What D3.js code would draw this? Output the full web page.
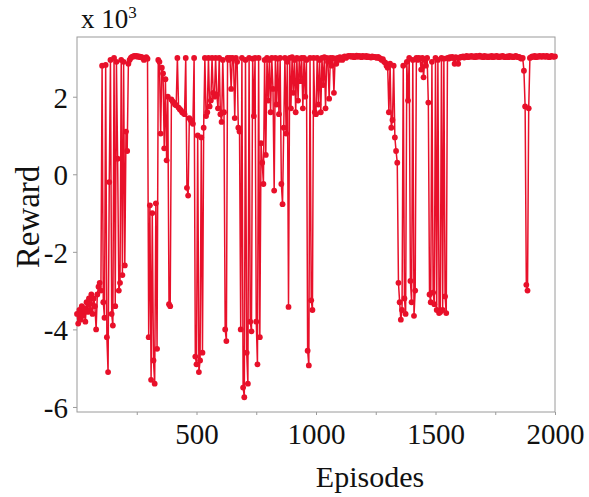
<!DOCTYPE html>
<html>
    <head>
        <meta charset="utf-8">
        <script src="https://d3js.org/d3.v7.min.js"></script>
        <style>
            body { margin: 0; background: #fff; }
            text { font-family: "Liberation Serif", "Times New Roman", serif; fill: #111; }
        </style>
    </head>
    <body>
        <script>
            // reward (x 10^3), one value every 5 episodes
            var epStep = 5;
            var rewardA = [ // episodes 0 - 495
                -3.6, -3.85, -3.5, -3.75, -3.4, -3.65, -3.45, -3.8, -3.3, -3.55,
                -3.2, -3.5, -3.1, -3.6, -3.2, -3.4, -4.0, -3.1, -2.9, -2.8,
                -3.0, 2.8, -3.3, -3.7, 2.82, -4.2, -5.1, -0.2, 2.95, -3.6,
                -3.9, 3.0, -3.4, 2.9, 0.4, -3.0, -2.8, 2.95, -2.6, 2.9,
                -2.35, 1.1, 0.6, 2.85, 2.95, 3.0, 3.03, 3.04, 3.05, 3.04,
                3.05, 3.03, 3.04, 3.02, 3.03, 3.0, 2.95, 3.0, 3.02, 2.98,
                -4.2, -0.8, -5.3, -1.0, -4.8, -5.4, -0.75, -4.5, 2.95, 2.9,
                1.05, 2.75, 2.6, 0.67, 2.45, 0.36, 2.0, -3.35, -3.4, 1.93,
                1.88, 1.85, 1.8, 1.78, 3.0, 1.72, 1.68, 1.65, 1.6, 1.58,
                1.55, 3.0, -0.35, -0.55, 1.45, 1.4, 1.35, 1.3, 3.0, -4.7
            ];
            var rewardB = [ // episodes 500 - 995
                -4.9, 1.0, -5.1, -4.8, 0.95, -4.6, 1.2, 3.0, 1.5, 1.6,
                3.0, 1.75, 1.9, 3.0, 2.1, 2.0, 3.0, 2.05, 1.7, 3.0,
                1.55, 1.35, 2.95, 1.6, -4.0, -4.3, 3.0, 2.95, 3.0, 2.2,
                3.0, 2.98, 1.45, 3.0, 2.9, 1.2, 1.1, -4.0, 3.0, -5.5,
                -5.75, 2.95, -4.6, -5.4, 3.0, -3.8, -4.05, 2.98, 1.5, 3.0,
                -3.8, -4.9, 3.0, -4.2, 0.8, 0.3, -0.25, 2.95, 0.5, 3.0,
                1.9, 2.95, 1.6, 3.0, 2.2, -0.42, 3.0, 1.8, 2.98, 1.55,
                3.0, -0.25, -0.77, 1.2, 3.0, 1.05, 2.9, -3.42, 3.0, 1.7,
                3.02, 2.1, 2.95, 1.6, 3.0, 1.9, 2.98, 2.4, 3.0, 1.7,
                3.0, 2.0, 2.95, -4.55, -4.93, 3.0, -3.25, -3.5, 3.0, 1.6
            ];
            var rewardC = [ // episodes 1000 - 1495
                1.55, 3.0, 1.8, 2.95, 1.6, 3.0, 2.3, 3.02, 1.7, 3.0,
                2.9, 1.95, 3.0, 2.8, 3.0, 2.1, 2.98, 2.85, 3.0, 2.95,
                3.02, 3.0, 2.95, 3.02, 3.04, 3.0, 3.03, 3.05, 3.04, 3.05,
                3.03, 3.05, 3.02, 3.04, 3.06, 3.03, 3.05, 3.04, 3.02, 3.05,
                3.04, 3.03, 3.05, 3.02, 3.04, 3.03, 3.01, 3.04, 3.02, 3.03,
                3.02, 3.0, 3.03, 3.0, 2.98, 2.95, 2.97, 2.9, 2.88, 2.8,
                2.75, 1.6, 2.85, 1.2, 1.4, 2.8, 0.95, 0.6, 0.3, -2.8,
                -3.3, -3.75, -3.5, 2.8, -3.2, -3.6, 2.9, 1.9, 3.0, -2.75,
                -3.3, 2.95, -3.65, -3.0, 3.0, 2.95, 3.0, 2.98, 2.7, 3.0,
                2.5, 2.95, 2.8, 3.0, 1.85, -3.1, -3.3, 2.9, -3.05, -3.35
            ];
            var rewardD = [ // episodes 1500 - 2000
                3.0, -3.5, 2.95, -3.58, -3.55, 3.0, -3.5, 2.98, -3.15, -3.58,
                3.0, 2.98, 3.02, 3.0, 3.03, 3.0, 2.85, 3.02, 3.0, 2.85,
                3.0, 3.03, 3.02, 3.04, 3.01, 3.03, 3.05, 3.02, 3.04, 3.03,
                3.05, 3.03, 3.04, 3.02, 3.05, 3.03, 3.04, 3.06, 3.03, 3.04,
                3.02, 3.05, 3.03, 3.04, 3.02, 3.04, 3.03, 3.05, 3.02, 3.04,
                3.03, 3.05, 3.04, 3.02, 3.04, 3.03, 3.05, 3.04, 3.02, 3.03,
                3.04, 3.02, 3.05, 3.03, 3.04, 3.02, 3.03, 3.05, 3.04, 3.02,
                3.03, 3.0, 2.98, 3.0, 2.67, 1.75, -2.85, -3.0, 1.7, 3.0,
                3.02, 3.04, 3.03, 3.05, 3.02, 3.04, 3.03, 3.05, 3.04, 3.03,
                3.05, 3.04, 3.03, 3.05, 3.04, 3.02, 3.03, 3.05, 3.04, 3.03,
                3.04
            ];
            var xTicks = [250, 500, 750, 1000, 1250, 1500, 1750, 2000];
            var xLabelEvery = 500;
            var yTicks = [-6, -4, -2, 0, 2];

            var width = 589, height = 497;
            var plotLeft = 77, plotRight = 555, plotTop = 37, plotBottom = 412;
            var red = "#e8102a";

            var reward = rewardA.concat(rewardB, rewardC, rewardD);
            var data = reward.map(function (v, i) { return {ep: i * epStep, v: v}; });

            var svg = d3.select('body').append('svg')
                .attr('width', width)
                .attr('height', height);

            var x = d3.scaleLinear().domain([0, 2000]).range([plotLeft, plotRight]);
            var y = d3.scaleLinear().domain([-6.13, 3.54]).range([plotBottom, plotTop]);

            // frame
            svg.append('rect')
                .attr('x', plotLeft).attr('y', plotTop)
                .attr('width', plotRight - plotLeft).attr('height', plotBottom - plotTop)
                .attr('fill', 'none').attr('stroke', '#9a9a9a').attr('stroke-width', 1);

            // data
            var line = d3.line()
                .x(function (d) { return x(d.ep); })
                .y(function (d) { return y(d.v); });

            svg.append('path')
                .datum(data)
                .attr('d', line)
                .attr('fill', 'none')
                .attr('stroke', red)
                .attr('stroke-width', 1.5);

            svg.append('g').selectAll('circle')
                .data(data)
                .enter()
                .append('circle')
                .attr('cx', function (d) { return x(d.ep); })
                .attr('cy', function (d) { return y(d.v); })
                .attr('r', 2.9)
                .attr('fill', red);

            // axes
            var yAxis = d3.axisLeft(y)
                .tickValues(yTicks)
                .tickSize(4)
                .tickPadding(5)
                .tickFormat(function (d) { return String(d); });
            var gy = svg.append('g')
                .attr('transform', 'translate(' + plotLeft + ',0)')
                .call(yAxis);
            gy.select('.domain').remove();
            gy.selectAll('.tick line').attr('stroke', '#9a9a9a');
            gy.selectAll('.tick text')
                .style('font-size', '29px')
                .attr('dy', '0.36em');

            var xAxis = d3.axisBottom(x)
                .tickValues(xTicks)
                .tickSize(3)
                .tickPadding(8)
                .tickFormat(function (d) { return d % xLabelEvery === 0 ? String(d) : ''; });
            var gx = svg.append('g')
                .attr('transform', 'translate(0,' + plotBottom + ')')
                .call(xAxis);
            gx.select('.domain').remove();
            gx.selectAll('.tick line').attr('stroke', '#9a9a9a');
            gx.selectAll('.tick text')
                .style('font-size', '29px');

            // labels
            svg.append('text')
                .attr('x', 370).attr('y', 487)
                .attr('text-anchor', 'middle')
                .style('font-size', '30px')
                .text('Episodes');

            svg.append('text')
                .attr('transform', 'translate(39,217) rotate(-90)')
                .attr('text-anchor', 'middle')
                .style('font-size', '33px')
                .text('Reward');

            var mult = svg.append('text')
                .attr('x', 81).attr('y', 28)
                .style('font-size', '27px');
            mult.append('tspan').text('x 10');
            mult.append('tspan')
                .attr('dy', -10)
                .style('font-size', '17px')
                .text('3');
        </script>
    </body>
</html>
